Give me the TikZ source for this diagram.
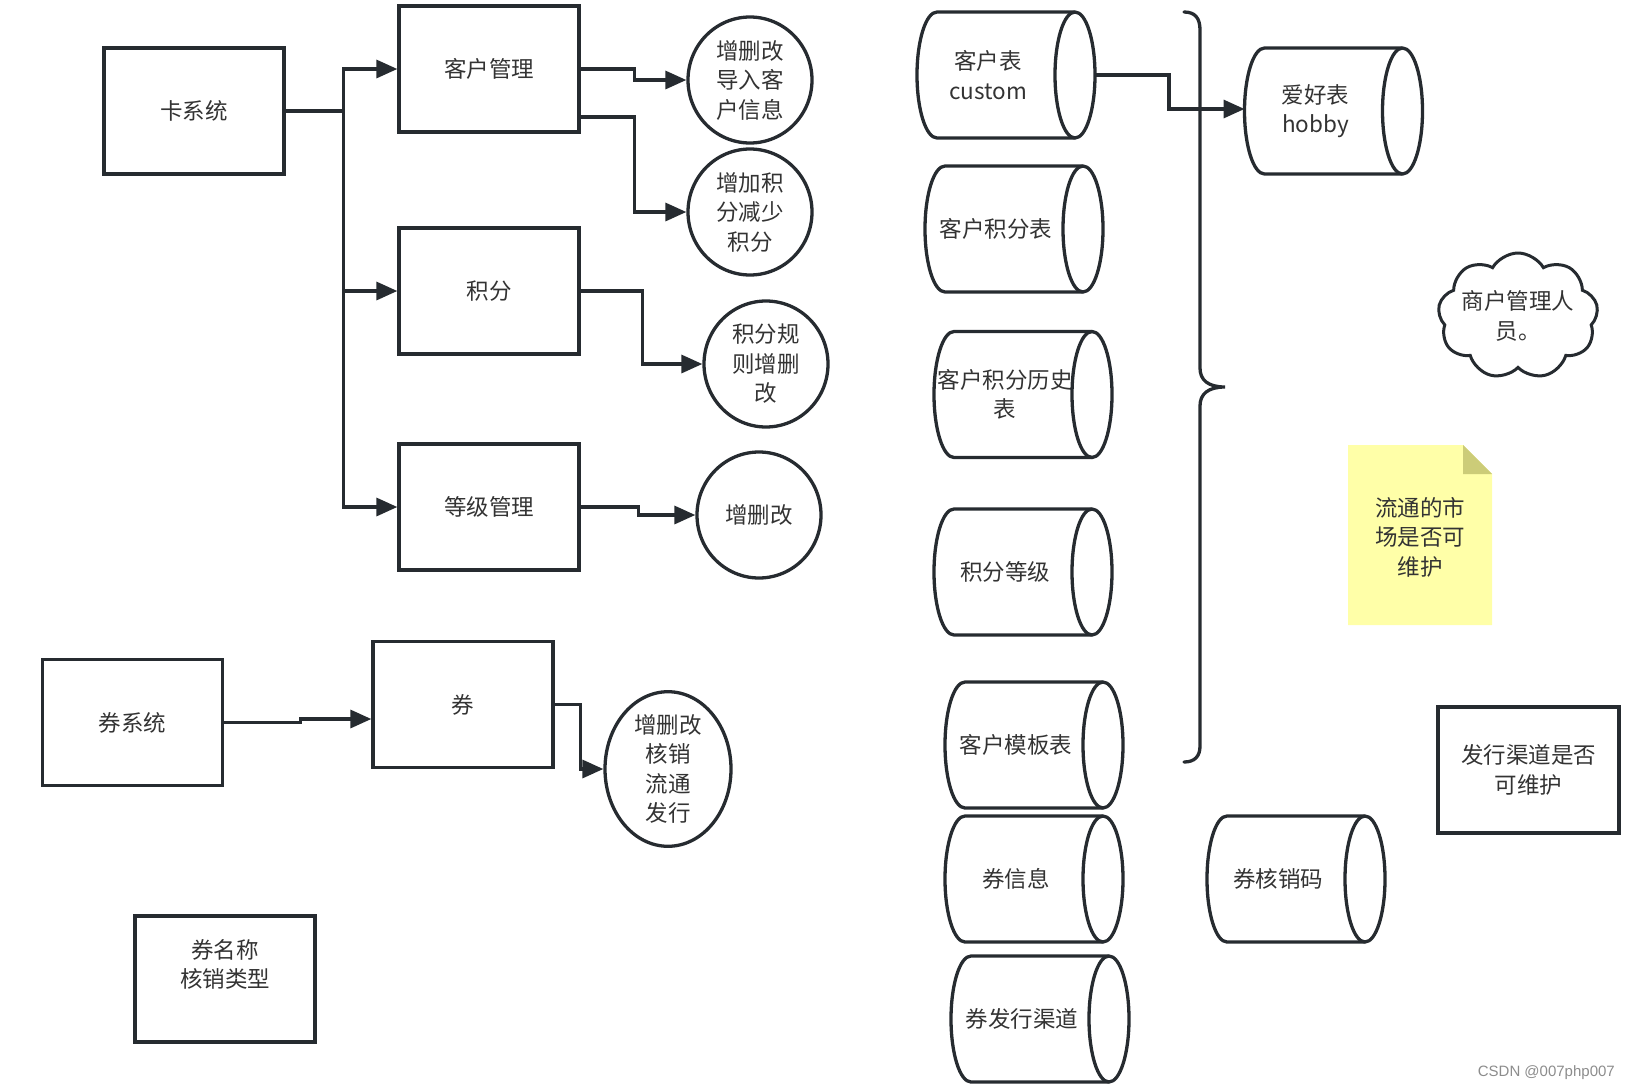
\documentclass[tikz,border=0pt]{standalone}
\usepackage{fontspec}
\setmainfont{Noto Sans CJK SC}
\newfontfamily\wmfont{Liberation Sans}
\usetikzlibrary{arrows.meta,shapes.geometric,shapes.symbols,calc}
\definecolor{linec}{HTML}{262B30}
\definecolor{txtc}{HTML}{333333}
\definecolor{notey}{HTML}{FFFFA8}
\definecolor{notef}{HTML}{CCCC78}
\begin{document}
\begin{tikzpicture}[x=1pt,y=-1pt,
  lin/.style={draw=linec,line width=3.3pt},
  conn/.style={draw=linec,line width=3.3pt,-{Triangle[length=21pt,width=18pt]}},
  txt/.style={text=txtc,font=\fontsize{22.5pt}{29.5pt}\selectfont,align=center},
  boxnode/.style={lin,txt,rectangle,minimum width=180pt,minimum height=126pt,inner sep=0pt},
  ellnode/.style={lin,txt,ellipse,minimum width=124pt,minimum height=126pt,inner sep=0pt},
  cylnode/.style={rectangle,draw=none,minimum width=178pt,minimum height=126pt,inner sep=0pt,outer sep=0pt},
  cyltext/.style={txt,inner sep=0pt,xshift=-18pt}]
\useasboundingbox (0,0) rectangle (1630,1090);

% left boxes
\node[boxnode] (ka) at (194,111) {卡系统};
\node[boxnode] (kh) at (489,69) {客户管理};
\node[boxnode] (jf) at (489,291) {积分};
\node[boxnode] (dj) at (489,507) {等级管理};
\node[ellnode] (e1) at (750,80) {增删改\\导入客\\户信息};
\node[ellnode] (e2) at (750,212) {增加积\\分减少\\积分};
\node[ellnode] (e3) at (766,364) {积分规\\则增删\\改};
\node[ellnode] (e4) at (759,515) {增删改};

\node[boxnode] (qs) at (132.5,722.5) {券系统};
\node[boxnode] (q) at (463,704.5) {券};
\node[ellnode,minimum width=126pt] (e5) at (668,769) {增删改\\核销\\流通\\发行};
\node[boxnode,label={[txt,inner sep=0pt,yshift=14.5pt]center:券名称\\核销类型}] (qm) at (225,979) {};

% connectors
\draw[conn] (ka.east) -- ++(58,0) |- (kh.west);
\draw[conn] (ka.east) -- ++(58,0) |- (jf.west);
\draw[conn] (ka.east) -- ++(58,0) |- (dj.west);
\draw[conn] (kh.east) -- ++(54,0) |- (e1.west);
\draw[conn] ([yshift=-48pt]kh.east) -- ++(54,0) |- (e2.west);
\draw[conn] (jf.east) -- ++(62,0) |- (e3.west);
\draw[conn] (dj.east) -- ++(58,0) |- (e4.west);
\draw[conn] (qs.east) -- ++(76,0) |- ([yshift=-14.5pt]q.west);
\draw[conn] (q.east) -- ++(26,0) |- (e5.west);

% cylinders
\node[cylnode,label={[cyltext]center:客户表\\custom}] (c1) at (1006,75) {};
\node[cylnode,label={[cyltext]center:客户积分表}] (c2) at (1014,229) {};
\node[cylnode,label={[cyltext]center:客户积分历史\\表}] (c3) at (1023,394.5) {};
\node[cylnode,label={[cyltext]center:积分等级}] (c4) at (1023,572) {};
\node[cylnode,label={[cyltext]center:客户模板表}] (c5) at (1034,745) {};
\node[cylnode,label={[cyltext]center:券信息}] (c6) at (1034,879) {};
\node[cylnode,label={[cyltext]center:券发行渠道}] (c7) at (1040,1019) {};
\node[cylnode,label={[cyltext]center:爱好表\\hobby}] (hb) at (1333.5,111) {};
\node[cylnode,label={[cyltext]center:券核销码}] (hx) at (1296,879) {};
\foreach \n in {c1,c2,c3,c4,c5,c6,c7,hb,hx} {
  \draw[lin] ([xshift=20pt]\n.north west) -- ([xshift=-20pt]\n.north east)
     arc[start angle=90,end angle=-90,x radius=20pt,y radius=63pt]
     -- ([xshift=20pt]\n.south west)
     arc[start angle=270,end angle=90,x radius=20pt,y radius=63pt] -- cycle;
  \draw[lin] ([xshift=-20pt]\n.north east)
     arc[start angle=90,end angle=270,x radius=20pt,y radius=63pt];
}
\draw[conn] (c1.east) -- ++(74,0) |- ([yshift=2pt]hb.west);

% brace
\draw[lin,line cap=round] (1184,12) .. controls (1195,12) and (1200,18) .. (1200,30)
  -- (1200,368) .. controls (1200,380) and (1208,387) .. (1225,387)
  .. controls (1208,387) and (1200,394) .. (1200,406)
  -- (1200,746) .. controls (1200,756) and (1195,762) .. (1184,762);

% cloud
\node[cloud,lin,line width=3pt,cloud puffs=9,cloud puff arc=120,aspect=1.3,
  minimum width=160pt,minimum height=126pt,inner sep=0pt,
  label={[txt,inner sep=0pt]center:商户管理人\\员。}] (cl) at (1518,316) {};

% note
\fill[notey] (1348,445) -- (1463,445) -- (1492,474) -- (1492,625) -- (1348,625) -- cycle;
\fill[notef] (1463,445) -- (1492,474) -- (1463,474) -- cycle;
\node[txt] (nt) at (1420,537) {流通的市\\场是否可\\维护};

\node[boxnode,minimum width=181pt] (fx) at (1528.5,770) {发行渠道是否\\可维护};

\node[text=black!45,font=\wmfont\fontsize{15pt}{16pt}\selectfont,anchor=east,inner sep=0pt] (wm) at (1615,1073) {CSDN @007php007};
\end{tikzpicture}
\end{document}
